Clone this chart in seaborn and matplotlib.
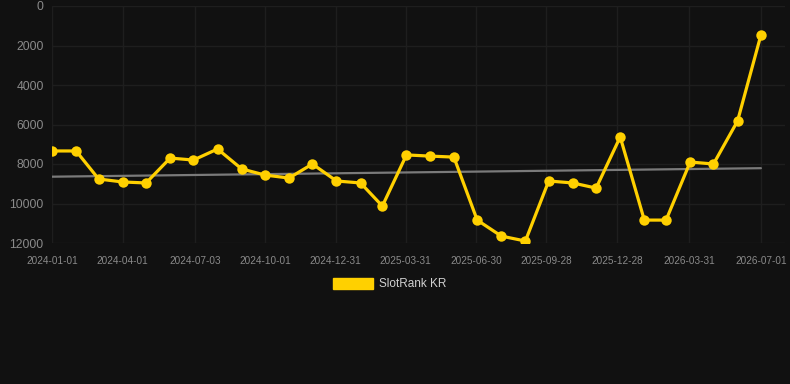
import numpy as np
import pandas as pd
import matplotlib
matplotlib.use("Agg")
import matplotlib.pyplot as plt
import matplotlib.dates as mdates
from matplotlib.patches import Patch
import seaborn as sns

dates = pd.date_range("2024-01-01", "2026-07-01", freq="MS")
ranks = [7340, 7340, 8760, 8910, 8960, 7700, 7800, 7240, 8250, 8560,
         8710, 8000, 8860, 8960, 10130, 7540, 7600, 7650, 10840, 11650,
         11900, 8860, 8960, 9220, 6630, 10840, 10840, 7900, 8000, 5820,
         1470]
tick_labels = ["2024-01-01", "2024-04-01", "2024-07-03", "2024-10-01",
               "2024-12-31", "2025-03-31", "2025-06-30", "2025-09-28",
               "2025-12-28", "2026-03-31", "2026-07-01"]
series_name = "SlotRank KR"

df = pd.DataFrame({"date": dates, "rank": ranks})

sns.set_theme(style="dark")
plt.rcParams["font.family"] = ["Liberation Sans", "DejaVu Sans"]

bg = "#111111"
fig = plt.figure(figsize=(7.9, 3.84), dpi=100, facecolor=bg)
ax = fig.add_axes([52 / 790, 1 - 243 / 384, (785 - 52) / 790, (243 - 6) / 384])
ax.set_facecolor(bg)

# trend line (linear regression)
xnum = mdates.date2num(df["date"])
coef = np.polyfit(xnum, df["rank"], 1)
trend = pd.DataFrame({"date": [df["date"].iloc[0], df["date"].iloc[-1]],
                      "rank": np.polyval(coef, [xnum[0], xnum[-1]])})
sns.lineplot(data=trend, x="date", y="rank", ax=ax, color="#7a7a7a",
             linewidth=1.6, zorder=2)

sns.lineplot(data=df, x="date", y="rank", ax=ax, color="#FFD000",
             linewidth=2.3, marker="o", markersize=7.5,
             markeredgewidth=0, zorder=3)

ax.set_ylim(12000, 0)
ax.set_yticks([0, 2000, 4000, 6000, 8000, 10000, 12000])
ax.set_xlim(pd.Timestamp("2024-01-01"), pd.Timestamp("2026-08-01"))
ax.set_xticks(pd.to_datetime(tick_labels))
ax.set_xticklabels(tick_labels)

ax.grid(True, color="#1e1e1e", linewidth=1)
for s in ax.spines.values():
    s.set_visible(False)
ax.tick_params(axis="y", colors="#8a8a8a", labelsize=8.7, length=0, pad=6)
ax.tick_params(axis="x", colors="#8a8a8a", labelsize=7.2, length=0, pad=9)
ax.set_xlabel("")
ax.set_ylabel("")

handles = [Patch(facecolor="#FFD000", edgecolor="#FFD000", label=series_name)]
leg = fig.legend(handles=handles, loc="center", bbox_to_anchor=(390 / 790, 1 - 284 / 384),
                 frameon=False, handlelength=3.4, handleheight=1.1,
                 handletextpad=0.5, fontsize=8.5)
for t in leg.get_texts():
    t.set_color("#d0d0d0")

fig.savefig("out.png", dpi=100, facecolor=bg)
